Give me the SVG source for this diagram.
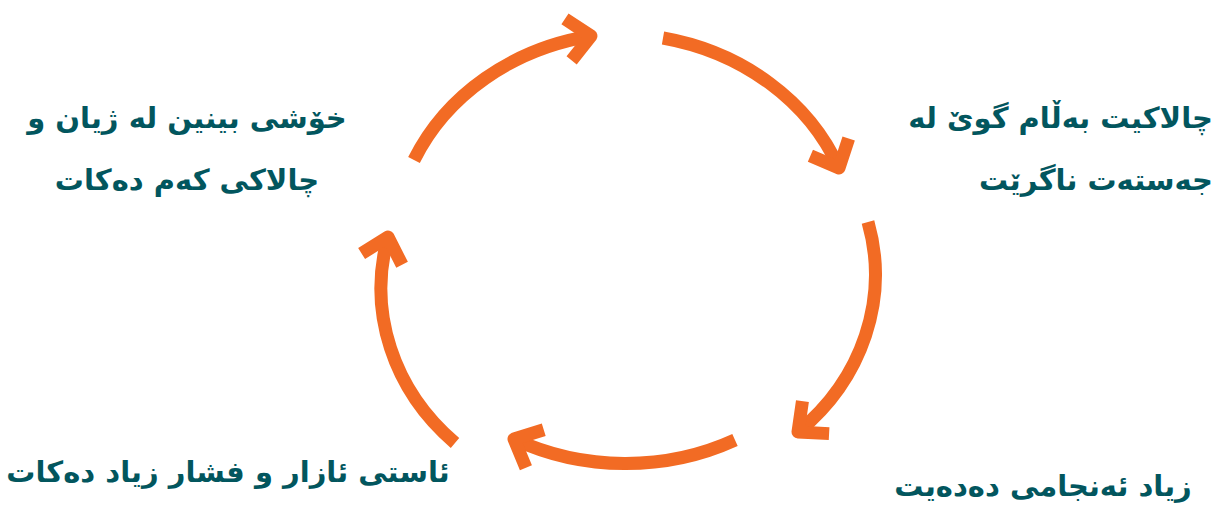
<svg xmlns="http://www.w3.org/2000/svg" width="1227" height="511" viewBox="0 0 1227 511">
<style>
.lbl{font-family:"DejaVu Sans","Noto Sans",sans-serif;font-weight:bold;font-size:29px;fill:#02565E;text-anchor:middle;direction:rtl}
.rt{text-anchor:start}
.arc{fill:none;stroke:#F26B24;stroke-width:13;stroke-linecap:butt;marker-end:url(#head)}
</style>
<defs>
<marker id="head" markerUnits="userSpaceOnUse" markerWidth="80" markerHeight="80" refX="0" refY="0" viewBox="-40 -40 80 80" orient="auto" overflow="visible">
<path d="M-23,-21 L0,0 L-23,21" fill="none" stroke="#F26B24" stroke-width="13" stroke-linejoin="round" stroke-linecap="butt"/>
</marker>
</defs>
<rect width="1227" height="511" fill="#FFFFFF"/>
<g id="connectors">
<path class="arc" d="M414,160 A240,214 0 0 1 591,36"/>
<path class="arc" d="M663,38 A240,214 0 0 1 839,168"/>
<path class="arc" d="M868,222 A240,214 0 0 1 798,432"/>
<path class="arc" d="M735,440 A240,214 0 0 1 514,439"/>
<path class="arc" d="M455,443 A240,214 0 0 1 388,237"/>
</g>
<g id="node-top-left">
<text class="lbl" x="187" y="128">خۆشی بینین لە ژیان و</text>
<text class="lbl" x="187" y="190">چالاکی کەم دەکات</text>
</g>
<g id="node-top-right">
<text class="lbl rt" x="1213" y="128">چالاکیت بەڵام گوێ لە</text>
<text class="lbl rt" x="1213" y="190">جەستەت ناگرێت</text>
</g>
<g id="node-bottom-right">
<text class="lbl" x="1043" y="496">زیاد ئەنجامی دەدەیت</text>
</g>
<g id="node-bottom-left">
<text class="lbl" x="228" y="482">ئاستی ئازار و فشار زیاد دەکات</text>
</g>
</svg>
